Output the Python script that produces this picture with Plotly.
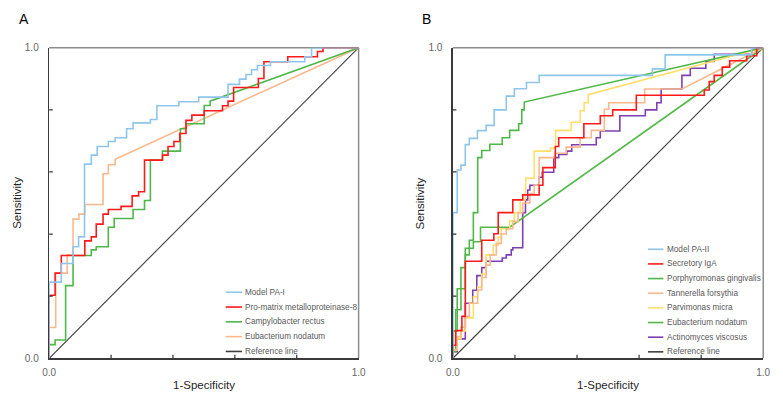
import plotly.graph_objects as go

# ---------------- data ----------------
# Panel A (ROC points: FPR = 1-Specificity, TPR = Sensitivity)
a_names = ["Model PA-I", "Pro-matrix metalloproteinase-8", "Campylobacter rectus",
           "Eubacterium nodatum", "Reference line"]
a_colors = ["#8DC6EA", "#FF1A1A", "#4DB848", "#FBB88C", "#404040"]

pa1_fpr = [0, 0, 0.039, 0.077, 0.095, 0.114, 0.136, 0.155, 0.191, 0.213, 0.25, 0.271, 0.327,
           0.348, 0.419, 0.483, 0.578, 0.615, 0.636, 0.654, 0.673, 0.715, 0.826, 0.848, 1]
pa1_tpr = [0, 0.245, 0.305, 0.359, 0.391, 0.625, 0.654, 0.682, 0.698, 0.71, 0.739, 0.758, 0.769,
           0.813, 0.826, 0.841, 0.882, 0.899, 0.914, 0.929, 0.943, 0.955, 0.971, 1.0, 1]

mmp8_fpr = [0, 0, 0.019, 0.039, 0.115, 0.136, 0.152, 0.174, 0.191, 0.232, 0.268, 0.289, 0.308,
            0.366, 0.384, 0.403, 0.422, 0.442, 0.461, 0.501, 0.56, 0.578, 0.596, 0.676, 0.694,
            0.771, 0.867, 0.885, 1]
mmp8_tpr = [0, 0.203, 0.274, 0.331, 0.378, 0.391, 0.432, 0.464, 0.479, 0.489, 0.523, 0.536, 0.638,
            0.654, 0.682, 0.698, 0.724, 0.766, 0.783, 0.797, 0.813, 0.828, 0.872, 0.901, 0.955,
            0.971, 0.988, 1.0, 1]

crect_fpr = [0, 0, 0.019, 0.053, 0.077, 0.136, 0.152, 0.191, 0.21, 0.271, 0.308, 0.327, 0.366,
             0.424, 0.442, 0.501, 0.52, 1]
crect_tpr = [0, 0.044, 0.059, 0.234, 0.331, 0.349, 0.359, 0.422, 0.45, 0.479, 0.508, 0.638, 0.667,
             0.739, 0.755, 0.814, 0.828, 1]

enodA_fpr = [0, 0, 0.021, 0.058, 0.077, 0.096, 0.115, 0.174, 0.191, 0.213, 1]
enodA_tpr = [0, 0.099, 0.274, 0.333, 0.448, 0.464, 0.495, 0.594, 0.623, 0.641, 1]

# Panel B
b_names = ["Model PA-II", "Secretory IgA", "Porphyromonas gingivalis", "Tannerella forsythia",
           "Parvimonas micra", "Eubacterium nodatum", "Actinomyces viscosus", "Reference line"]
b_colors = ["#8DC6EA", "#FF1A1A", "#4DB848", "#FBB88C", "#FFDF6A", "#52B947", "#7F3FB2", "#404040"]

pa2_fpr = [0, 0, 0.014, 0.026, 0.04, 0.053, 0.079, 0.107, 0.133, 0.172, 0.198, 0.237, 0.278,
           0.643, 0.684, 0.963, 1]
pa2_tpr = [0, 0.469, 0.606, 0.622, 0.688, 0.708, 0.733, 0.75, 0.8, 0.844, 0.868, 0.888, 0.911,
           0.932, 0.977, 1.0, 1]

siga_fpr = [0, 0, 0.009, 0.029, 0.04, 0.093, 0.132, 0.146, 0.193, 0.225, 0.278, 0.29, 0.33, 0.341,
            0.422, 0.475, 0.515, 0.591, 0.81, 0.826, 0.842, 0.868, 0.892, 0.947, 0.979, 1]
siga_tpr = [0, 0.042, 0.089, 0.135, 0.3125, 0.38, 0.401, 0.469, 0.51, 0.526, 0.557, 0.614, 0.682,
            0.71, 0.755, 0.781, 0.8, 0.847, 0.864, 0.891, 0.911, 0.9375, 0.958, 0.974, 1.0, 1]

pging_fpr = [0, 0, 0.014, 0.026, 0.04, 0.053, 0.066, 0.08, 0.093, 0.119, 0.159, 0.183, 0.212,
             0.222, 0.23, 1]
pging_tpr = [0, 0.088, 0.224, 0.292, 0.354, 0.38, 0.469, 0.646, 0.669, 0.689, 0.71, 0.734, 0.755,
             0.8, 0.825, 1]

tfor_fpr = [0, 0, 0.014, 0.026, 0.04, 0.053, 0.08, 0.093, 0.107, 0.12, 0.14, 0.156, 0.172, 0.193,
            0.21, 0.225, 0.248, 0.262, 0.278, 0.33, 0.365, 0.41, 0.446, 0.488, 0.502, 0.618,
            0.738, 1]
tfor_tpr = [0, 0.026, 0.07, 0.1, 0.135, 0.177, 0.22, 0.26, 0.3, 0.333, 0.37, 0.4, 0.417, 0.44,
            0.469, 0.5, 0.53, 0.557, 0.646, 0.66, 0.68, 0.71, 0.734, 0.802, 0.823, 0.867,
            0.867, 1]

pmic_fpr = [0, 0, 0.014, 0.026, 0.04, 0.066, 0.08, 0.093, 0.107, 0.13, 0.146, 0.156, 0.183, 0.198,
            0.217, 0.233, 0.235, 0.262, 0.315, 0.331, 0.381, 0.41, 0.423, 0.436, 1]
pmic_tpr = [0, 0.026, 0.0625, 0.088, 0.13, 0.198, 0.229, 0.271, 0.333, 0.364, 0.39, 0.417, 0.4425,
            0.469, 0.51, 0.531, 0.58, 0.667, 0.677, 0.734, 0.76, 0.797, 0.823, 0.849, 1]

enodB_fpr = [0, 0, 0.009, 0.026, 0.04, 0.053, 0.066, 0.089, 0.183, 1]
enodB_tpr = [0, 0.021, 0.156, 0.224, 0.333, 0.354, 0.375, 0.422, 0.422, 1]

avis_fpr = [0, 0, 0.014, 0.04, 0.064, 0.077, 0.093, 0.107, 0.159, 0.172, 0.188, 0.193, 0.225, 0.234,
            0.241, 0.248, 0.278, 0.288, 0.325, 0.341, 0.367, 0.383, 0.462, 0.475, 0.538, 0.62,
            0.657, 0.671, 0.738, 0.765, 0.815, 0.842, 0.963, 1]
avis_tpr = [0, 0.021, 0.0625, 0.177, 0.219, 0.266, 0.292, 0.3125, 0.323, 0.333, 0.349, 0.356, 0.469,
            0.51, 0.542, 0.557, 0.583, 0.599, 0.646, 0.656, 0.667, 0.6875, 0.71, 0.732, 0.781, 0.8,
            0.823, 0.867, 0.911, 0.934, 0.956, 0.979, 1.0, 1]

ref_x = [0, 1]
ref_y = [0, 1]
tick_positions = [0.2, 0.4, 0.6, 0.8]
tick_labels_vals = [0, 1]
tick_labels_text = ["0.0", "1.0"]

# ---------------- layout constants ----------------
W, H = 783, 405
FONT = "Liberation Sans, Arial, sans-serif"
PANEL_A_PX = (43, 358)
PANEL_B_PX = (454, 770)
PY = (43, 363)


def stair(fpr, tpr):
    xs, ys = [fpr[0]], [tpr[0]]
    for i in range(1, len(fpr) - 1):
        xs += [fpr[i], fpr[i]]
        ys += [tpr[i - 1], tpr[i]]
    xs.append(fpr[-1])
    ys.append(tpr[-1])
    return xs, ys


fig = go.Figure()

a_series = [(pa1_fpr, pa1_tpr), (mmp8_fpr, mmp8_tpr), (crect_fpr, crect_tpr), (enodA_fpr, enodA_tpr)]
b_series = [(pa2_fpr, pa2_tpr), (siga_fpr, siga_tpr), (pging_fpr, pging_tpr), (tfor_fpr, tfor_tpr),
            (pmic_fpr, pmic_tpr), (enodB_fpr, enodB_tpr), (avis_fpr, avis_tpr)]

for (axx, axy), names, colors, series in [(("x", "y"), a_names, a_colors, a_series),
                                          (("x2", "y2"), b_names, b_colors, b_series)]:
    fig.add_trace(go.Scatter(x=ref_x, y=ref_y, mode="lines", name=names[-1],
                             line=dict(color=colors[-1], width=1.1),
                             xaxis=axx, yaxis=axy, showlegend=False, hoverinfo="skip"))
    for (f, t), n, c in list(zip(series, names, colors))[::-1]:
        xs, ys = stair(f, t)
        fig.add_trace(go.Scatter(x=xs, y=ys, mode="lines", name=n,
                                 line=dict(color=c, width=1.6),
                                 xaxis=axx, yaxis=axy, showlegend=False, hoverinfo="skip"))

ydom = [1 - PY[1] / H, 1 - PY[0] / H]
axis_common = dict(range=[0, 1], showgrid=False, zeroline=False, showline=True,
                   linecolor="#3a3a3a", linewidth=1.5, tickvals=tick_labels_vals,
                   ticktext=tick_labels_text, ticks="outside", tickcolor="rgba(0,0,0,0)",
                   tickfont=dict(family=FONT, size=10, color="#666666"), fixedrange=True)

fig.update_layout(
    width=W, height=H, autosize=False,
    margin=dict(l=0, r=0, t=0, b=0),
    paper_bgcolor="white", plot_bgcolor="white",
    font=dict(family=FONT),
    showlegend=False,
    xaxis=dict(domain=[PANEL_A_PX[0] / W, PANEL_A_PX[1] / W], anchor="y", ticklen=4, **axis_common),
    yaxis=dict(domain=ydom, anchor="x", ticklen=7, **axis_common),
    xaxis2=dict(domain=[PANEL_B_PX[0] / W, PANEL_B_PX[1] / W], anchor="y2", ticklen=4, **axis_common),
    yaxis2=dict(domain=ydom, anchor="x2", ticklen=7, **axis_common),
)

shapes = []
for xr, yr in [("x", "y"), ("x2", "y2")]:
    # top and right frame
    shapes.append(dict(type="line", xref=f"{xr} domain", yref=f"{yr} domain", x0=0, x1=1, y0=1, y1=1,
                       line=dict(color="#8c8c8c", width=1.5), layer="below"))
    shapes.append(dict(type="line", xref=f"{xr} domain", yref=f"{yr} domain", x0=1, x1=1, y0=0, y1=1,
                       line=dict(color="#8c8c8c", width=1.5), layer="below"))
    for v in tick_positions:
        shapes.append(dict(type="line", xref=xr, yref=yr, x0=v, x1=v, ysizemode="pixel", yanchor=0,
                           y0=-3.5, y1=3.5, line=dict(color="#333333", width=1.2)))
        shapes.append(dict(type="line", xref=xr, yref=yr, y0=v, y1=v, xsizemode="pixel", xanchor=0,
                           x0=-3.5, x1=3.5, line=dict(color="#333333", width=1.2)))

annotations = []
for (x0p, x1p), letter, lx in [(PANEL_A_PX, "A", 10), (PANEL_B_PX, "B", 421)]:
    annotations.append(dict(text=letter, x=lx / W, y=1 - 13 / H, xref="paper", yref="paper",
                            xanchor="left", yanchor="middle", showarrow=False,
                            font=dict(family=FONT, size=14, color="#000000")))
    annotations.append(dict(text="1-Specificity", x=(x0p + x1p) / 2 / W, y=1 - 391 / H,
                            xref="paper", yref="paper", xanchor="center", yanchor="middle",
                            showarrow=False, font=dict(family=FONT, size=11.5, color="#262626")))
    annotations.append(dict(text="Sensitivity", x=(x0p - 33) / W, y=1 - 203 / H,
                            xref="paper", yref="paper", xanchor="center", yanchor="middle",
                            textangle=-90, showarrow=False,
                            font=dict(family=FONT, size=11.5, color="#262626")))

# manual legends (compact rows like the original)
for names, colors, lx0, lx1, row0, step in [(a_names, a_colors, 222.7, 239.3, 295.0, 15.25),
                                            (b_names, b_colors, 652.7, 668.3, 250.7, 15.1)]:
    for i, (n, c) in enumerate(zip(names, colors)):
        yy = row0 + i * step
        shapes.append(dict(type="line", xref="paper", yref="paper", x0=lx0 / W, x1=lx1 / W,
                           y0=1 - yy / H, y1=1 - yy / H, line=dict(color=c, width=1.6)))
        annotations.append(dict(text=n, x=(lx1 + 1.5) / W, y=1 - yy / H, xref="paper", yref="paper",
                                xanchor="left", yanchor="middle", showarrow=False,
                                font=dict(family=FONT, size=8.2, color="#595959")))

fig.update_layout(shapes=shapes, annotations=annotations)
fig.write_html("out.html",
               config={"displayModeBar": False, "staticPlot": True},
               post_script="document.body.style.margin='0';document.body.style.padding='0';"
                           "document.body.style.overflow='hidden';")
